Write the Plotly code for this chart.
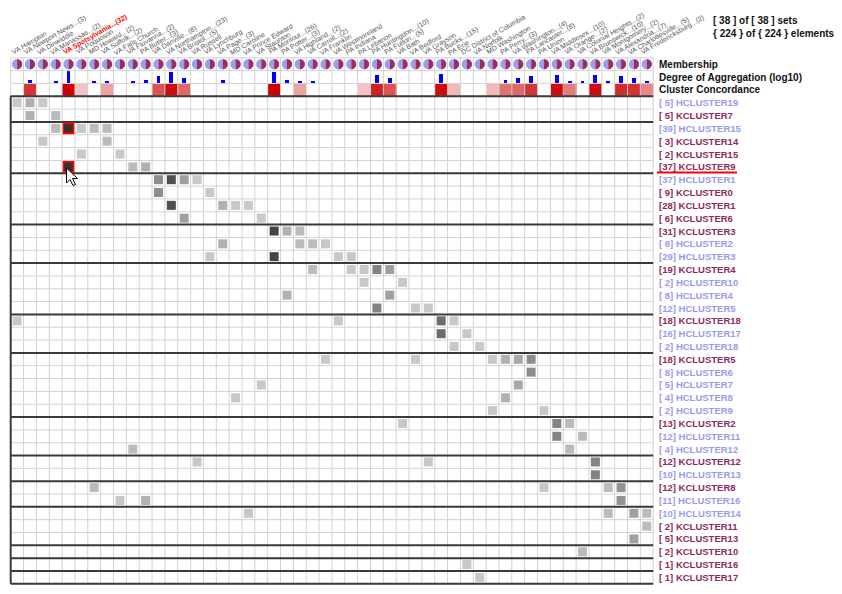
import math
import plotly.graph_objects as go

# ---------------- data ----------------
col_names = [
    "VA Hampton", "VA Newport News", "VA Dinwiddie", "VA Manassas", "VA Spotsylvania",
    "VA Poquoson", "MD Howard", "VA Suffolk", "VA Falls Church", "VA Fluvanna",
    "PA Butler", "VA Danville", "VA Northampton", "VA Bristol", "VA Russell",
    "VA Lynchburg", "VA Page", "MD Caroline", "VA Prince Edward", "VA Staunton",
    "PA Montour", "PA Potter", "VA Highland", "VA Carroll", "VA Franklin",
    "VA Westmoreland", "PA Indiana", "PA Lebanon", "PA Huntingdon", "PA Fulton",
    "VA Bath", "VA Bedford", "VA Grayson", "PA Bucks", "PA Erie",
    "DC District of Columbia", "VA Norfolk", "MD Washington", "PA Perry", "VA Washington",
    "PA Lancaster", "PA Union", "VA Middlesex", "VA Orange", "VA Colonial Heights",
    "VA Brunswick", "VA Montgomery", "VA Alexandria", "VA Charlottesville", "VA Fredericksburg",
]
col_counts = [1, 3, 1, 2, 32, 1, 2, 2, 1, 2,
              3, 8, 23, 5, 1, 1, 3, 1, 1, 1,
              26, 3, 2, 2, 1, 1, 1, 1, 10, 5,
              1, 1, 1, 15, 1, 1, 1, 1, 3, 4,
              8, 1, 10, 2, 2, 10, 2, 7, 5, 2]
concordance = [None, 0.75, None, None, 1.0, 0.05, None, 0.2, None, None,
               None, 0.6, 0.95, 0.5, None, None, None, None, None, None,
               1.0, None, 0.2, None, None, None, None, 0.05, 0.85, 0.6,
               None, None, None, 0.95, 0.1, None, None, 0.1, 0.45, 0.5,
               0.75, None, 0.95, 0.4, None, 0.95, None, 0.8, 0.75, 0.35]

row_names = ["HCLUSTER19", "KCLUSTER7", "HCLUSTER15", "KCLUSTER14", "KCLUSTER15", "KCLUSTER9",
             "HCLUSTER1", "KCLUSTER0", "KCLUSTER1", "KCLUSTER6", "KCLUSTER3", "HCLUSTER2",
             "HCLUSTER3", "KCLUSTER4", "HCLUSTER10", "HCLUSTER4", "HCLUSTER5", "KCLUSTER18",
             "HCLUSTER17", "HCLUSTER18", "KCLUSTER5", "HCLUSTER6", "HCLUSTER7", "HCLUSTER8",
             "HCLUSTER9", "KCLUSTER2", "HCLUSTER11", "HCLUSTER12", "KCLUSTER12", "HCLUSTER13",
             "KCLUSTER8", "HCLUSTER16", "HCLUSTER14", "KCLUSTER11", "KCLUSTER13", "KCLUSTER10",
             "KCLUSTER16", "KCLUSTER17"]
row_sizes = [5, 5, 39, 3, 2, 37, 37, 9, 28, 6, 31, 8, 29, 19, 2, 8, 12, 18, 16, 2,
             18, 8, 5, 4, 2, 13, 12, 4, 12, 10, 12, 11, 10, 2, 5, 2, 1, 1]
row_members = [
    [0, 1, 2], [1, 3], [3, 4, 5, 6, 7], [2, 7], [5, 8], [4, 9, 10],
    [11, 12, 13, 14], [11, 15], [12, 16, 17, 18], [13, 19], [20, 21, 22], [16, 22, 23, 24],
    [15, 20, 25, 26], [23, 26, 27, 28, 29], [27, 30], [21, 29], [28, 31, 32], [0, 25, 33, 34],
    [33, 35], [34, 36], [24, 31, 37, 38, 39, 40], [40], [19, 39], [17, 38],
    [37, 41], [30, 42, 43], [42, 44], [9, 43], [14, 32, 45], [45],
    [6, 41, 46, 47], [8, 10, 47], [18, 46, 48, 49], [49], [48], [44],
    [35], [36],
]
group_breaks = [0, 2, 6, 10, 13, 17, 20, 25, 28, 30, 32, 35, 36, 37, 38]
selected_col = 4
selected_row = 5
header_labels = ["Membership", "Degree of Aggregation (log10)", "Cluster Concordance"]
summary_lines = ["[ 38 ] of [ 38 ] sets", "{ 224 } of { 224 } elements"]

# ---------------- geometry / style ----------------
PAGE = 8                       # default body margin of the html page
W, H = 842 - 2 * PAGE, 594 - 2 * PAGE
X0, CW = 10.7 - PAGE, 12.85
Y0, RH = 96.3 - PAGE, 12.83
NC, NR = len(col_names), len(row_names)
FONT = "Liberation Sans, Arial, sans-serif"
H_COLOR = "#9a9aee"
K_COLOR = "#8f2a5c"
PIE_LIGHT = "#9c9cf4"
PIE_DARK = "#963062"


def px2x(p):
    return (p - PAGE - X0) / CW


def px2y(p):
    return (p - PAGE - Y0) / RH


def gray_for(c):
    g = int(round(200 - 32 * (math.sqrt(c) - 1)))
    return f"rgb({g},{g},{g})"


fig = go.Figure()

# concordance row
fig.add_trace(go.Heatmap(
    x=list(range(NC + 1)), y=[-1, 0], z=[concordance],
    colorscale=[[0, "#f6cccc"], [0.5, "#e06868"], [1, "#cc0000"]],
    zmin=0, zmax=1, showscale=False, hoverinfo="skip"))

# thin grid
gx, gy = [], []
for c in range(NC + 1):
    gx += [c, c, None]
    gy += [-3, NR, None]
for r in range(-3, NR + 1):
    gx += [0, NC, None]
    gy += [r, r, None]
fig.add_trace(go.Scatter(x=gx, y=gy, mode="lines", line=dict(color="#d2d2d2", width=1),
                         hoverinfo="skip", showlegend=False))

# thick group separators
tx, ty = [0, 0, None], [0, NR, None]
for b in group_breaks:
    tx += [0, NC, None]
    ty += [b, b, None]
fig.add_trace(go.Scatter(x=tx, y=ty, mode="lines", line=dict(color="#3a3a3a", width=2),
                         hoverinfo="skip", showlegend=False))

# degree of aggregation bars
LOGMAX = math.log10(max(col_counts))
fig.add_trace(go.Bar(
    x=[c + 0.5 for c in range(NC)],
    y=[-0.97 * math.log10(v) / LOGMAX for v in col_counts],
    base=-1, width=0.3, marker=dict(color="#0000ff", line=dict(width=0)),
    hoverinfo="skip", showlegend=False))

# membership pies
lx, ly, dx, dy = [], [], [], []
rx, ry = 5.2 / CW, 5.2 / RH
for c in range(NC):
    cx, cy = c + 0.5, -2.5
    for k in range(25):
        t = math.pi / 2 + math.pi * k / 24
        lx.append(cx + rx * math.cos(t)); ly.append(cy - ry * math.sin(t))
        t2 = -math.pi / 2 + math.pi * k / 24
        dx.append(cx + rx * math.cos(t2)); dy.append(cy - ry * math.sin(t2))
    lx.append(None); ly.append(None); dx.append(None); dy.append(None)
fig.add_trace(go.Scatter(x=lx, y=ly, mode="lines", fill="toself", fillcolor=PIE_LIGHT,
                         line=dict(width=0, color=PIE_LIGHT), hoverinfo="skip", showlegend=False))
fig.add_trace(go.Scatter(x=dx, y=dy, mode="lines", fill="toself", fillcolor=PIE_DARK,
                         line=dict(width=0, color=PIE_DARK), hoverinfo="skip", showlegend=False))

# matrix cells
mx, my, mc = [], [], []
sx, sy = [], []
for r, cols in enumerate(row_members):
    for c in cols:
        if c == selected_col:
            sx.append(c + 0.5); sy.append(r + 0.5)
        else:
            mx.append(c + 0.5); my.append(r + 0.5); mc.append(gray_for(col_counts[c]))
fig.add_trace(go.Scatter(x=mx, y=my, mode="markers",
                         marker=dict(symbol="square", size=9, color=mc, line=dict(width=0)),
                         hoverinfo="skip", showlegend=False))
fig.add_trace(go.Scatter(x=sx, y=sy, mode="markers",
                         marker=dict(symbol="square", size=10, color="#333333",
                                     line=dict(width=1.6, color="#ff0000")),
                         hoverinfo="skip", showlegend=False))

ann = []
# column labels (placed in paper coordinates so the first one is never dropped)
for c, (name, n) in enumerate(zip(col_names, col_counts)):
    txt = name if n == 1 else f"{name}...({n})"
    sel = c == selected_col
    xp = (X0 + CW * (c - 0.25)) / W
    yp = 1 - (59 - PAGE) / H
    ann.append(dict(x=max(xp, 0.0), y=yp, xref="paper", yref="paper", text=txt,
                    showarrow=False, textangle=-30, xanchor="left", yanchor="bottom",
                    font=dict(family=FONT, size=7, color="#ff0000" if sel else "#555555",
                              weight="bold" if sel else "normal")))
# row labels
xl = px2x(657)
for r, (name, n) in enumerate(zip(row_names, row_sizes)):
    col = H_COLOR if name.startswith("H") else K_COLOR
    ann.append(dict(x=xl, y=r + 0.5, xref="x", yref="y", text=f"[{n:>2}] {name}",
                    showarrow=False, xanchor="left", yanchor="middle",
                    font=dict(family=FONT, size=9.5, color=col, weight="bold")))
for i, t in enumerate(header_labels):
    ann.append(dict(x=xl, y=-2.5 + i, xref="x", yref="y", text=t, showarrow=False,
                    xanchor="left", yanchor="middle",
                    font=dict(family=FONT, size=10, color="#111111", weight="bold")))
for i, t in enumerate(summary_lines):
    ann.append(dict(x=px2x(711), y=px2y(20 + 13 * i), xref="x", yref="y",
                    text=t, showarrow=False, xanchor="left", yanchor="middle",
                    font=dict(family=FONT, size=10, color="#111111", weight="bold")))

shapes = [dict(type="line", xref="x", yref="y", x0=xl, x1=px2x(737),
               y0=px2y(172.5), y1=px2y(172.5),
               line=dict(color="#ff0000", width=2))]
# mouse pointer
ppx, ppy = (66.5 - PAGE) / W, 1 - (168 - PAGE) / H
pts = [(0, 0), (0, 15), (3.5, 11.5), (6.5, 17.5), (9, 16.5), (6, 10.5), (11, 10.5)]
path = "M " + " L ".join(f"{ppx + a / W:.5f},{ppy - b / H:.5f}" for a, b in pts) + " Z"
shapes.append(dict(type="path", xref="paper", yref="paper", path=path,
                   fillcolor="#ffffff", line=dict(color="#000000", width=1)))

fig.update_layout(
    width=W, height=H, autosize=False, margin=dict(l=0, r=0, t=0, b=0),
    paper_bgcolor="#ffffff", plot_bgcolor="#ffffff", showlegend=False,
    xaxis=dict(range=[-X0 / CW, (W - X0) / CW], visible=False, fixedrange=True),
    yaxis=dict(range=[(H - Y0) / RH, -Y0 / RH], visible=False, fixedrange=True),
    annotations=ann, shapes=shapes, bargap=0,
)
fig.write_html("out.html")
